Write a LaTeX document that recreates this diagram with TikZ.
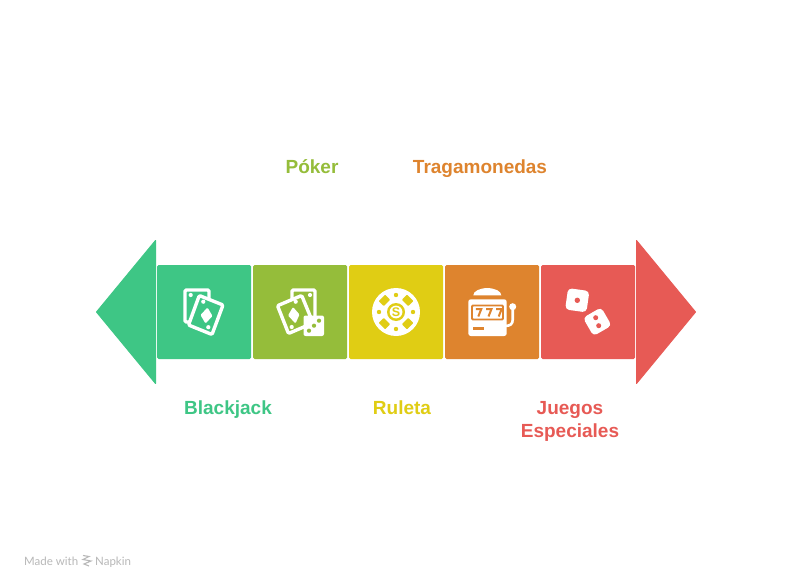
\documentclass[tikz,border=0pt]{standalone}
\usepackage{fontspec}
\setmainfont{Liberation Sans}
\newfontfamily\footfont{Lato}
\definecolor{cgreen}{HTML}{3EC685}
\definecolor{colive}{HTML}{95BD3A}
\definecolor{cyellow}{HTML}{E0CD14}
\definecolor{corange}{HTML}{DE842E}
\definecolor{cred}{HTML}{E75A55}
\definecolor{cfoot}{HTML}{B8B8B8}
\tikzset{
  tile/.style={fill=#1,rounded corners=1.5pt},
  head/.style={fill=#1,draw=#1,line width=1pt,line join=round},
  lab/.style={font=\bfseries\fontsize{19}{23}\selectfont,text=#1,align=center,inner sep=0pt,anchor=base},
  cardline/.style={draw=white,line width=3.4pt,line join=round,rounded corners=1.2pt},
  foot/.style={anchor=base west,inner sep=0pt,font=\footfont\fontsize{11.5}{12}\selectfont,text=cfoot},
}
\begin{document}
\begin{tikzpicture}[x=1pt,y=-1pt]
\useasboundingbox[fill=white] (0,0) rectangle (792,588);
% arrow heads
\path[head=cgreen] (96.5,312) -- (155.5,240.5) -- (155.5,383.5) -- cycle;
\path[head=cred] (695.5,312) -- (636.5,240.5) -- (636.5,383.5) -- cycle;
% tiles
\path[tile=cgreen] (157,265) rectangle (251,359);
\path[tile=colive] (253,265) rectangle (347,359);
\path[tile=cyellow] (349,265) rectangle (443,359);
\path[tile=corange] (445,265) rectangle (539,359);
\path[tile=cred] (541,265) rectangle (635,359);
% blackjack icon
\path[cardline] (185,290) rectangle (209,322);
\fill[white] (190.7,295) circle (2.1);
\path[cardline,fill=cgreen] (199.3,295.5) -- (223,305) -- (212,334.5) -- (188.5,325) -- cycle;
\fill[white] (203.3,301.7) circle (2.1) (208.3,327.2) circle (2.1);
\fill[white,rounded corners=1pt] (207.5,307.5) -- (212.5,316) -- (205.5,323.5) -- (200.5,315) -- cycle;
% poker icon
\path[cardline] (292,290) rectangle (315,322);
\fill[white] (310,295) circle (2.1);
\path[cardline,fill=colive] (277.5,305.7) -- (301.7,295.5) -- (313,323) -- (288.5,333.5) -- cycle;
\fill[white] (295.7,301.7) circle (2.1) (291.7,327) circle (2.1);
\fill[white,rounded corners=1pt] (293,307) -- (299.5,314.5) -- (295.5,323.5) -- (288,315.5) -- cycle;
\fill[white,rounded corners=2pt] (303.5,315.5) rectangle (324,336);
\fill[colive] (319,320.7) circle (2.1) (314,325.7) circle (2.1) (309,330.7) circle (2.1);
% roulette icon
\fill[white] (396,312) circle (24);
\foreach \a in {0,90,180,270} \fill[cyellow,shift={(396,312)}] (\a:17) circle (2.2);
\foreach \a in {45,135,225,315}
  \fill[cyellow,shift={(396,312)},rounded corners=0.6pt] (\a-13:20.5) -- (\a+13:20.5) -- (\a+19:13.5) -- (\a-19:13.5) -- cycle;
\fill[cyellow] (396,312) circle (9);
\fill[white] (396,312) circle (6.4);
\node[font=\bfseries\fontsize{12.5}{13}\selectfont,text=cyellow,inner sep=0pt] (chip) at (396,312) {S};
% slot machine icon
\fill[white] (473.3,295.3) arc[start angle=180,end angle=360,x radius=14,y radius=7.2] -- cycle;
\fill[white,rounded corners=2.5pt] (468.3,299.3) rectangle (506.7,336);
\draw[corange,line width=1.8pt,fill=white,rounded corners=1pt] (472,305.5) rectangle (503,319.5);
\foreach \x in {475.8,486,496.2}
  \draw[corange,line width=2pt] (\x,309) -- ++(5.5,0) -- ++(-3,7.5);
\fill[corange] (472.7,327.3) rectangle (484,330.2);
\fill[white] (512.7,306.7) circle (3.5);
\draw[white,line width=2.6pt] (512.7,308) -- (512.7,320) .. controls (512.7,324) and (510,326) .. (505,326);
% dice icon
\fill[white,rounded corners=4pt,rotate around={-8:(577.3,300.3)}] (566.5,289.5) rectangle (588,311);
\fill[cred] (577.3,300.3) circle (2.7);
\fill[white,rounded corners=4pt,rotate around={30:(597.3,321.7)}] (586.8,311.2) rectangle (607.8,332.2);
\fill[cred] (595.7,317.7) circle (2.5) (598.7,325.7) circle (2.5);
% labels
\node[lab=colive] (poker) at (312,174) {Póker};
\node[lab=corange] (traga) at (480,174) {Tragamonedas};
\node[lab=cgreen] (black) at (228,414) {Blackjack};
\node[lab=cyellow] (ruleta) at (402,414) {Ruleta};
\node[lab=cred] (juegos) at (570,414) {Juegos};
\node[lab=cred] (espec) at (570,437) {Especiales};
% footer
\node[foot] (made) at (24,565) {Made with};
\node[foot] (napkin) at (95,565) {Napkin};
\draw[cfoot,line width=1.1pt] (83,555.5) -- (89,556.5) -- (83,559.5) -- (91,561) -- (84,564) -- (89,566);
\end{tikzpicture}
\end{document}
